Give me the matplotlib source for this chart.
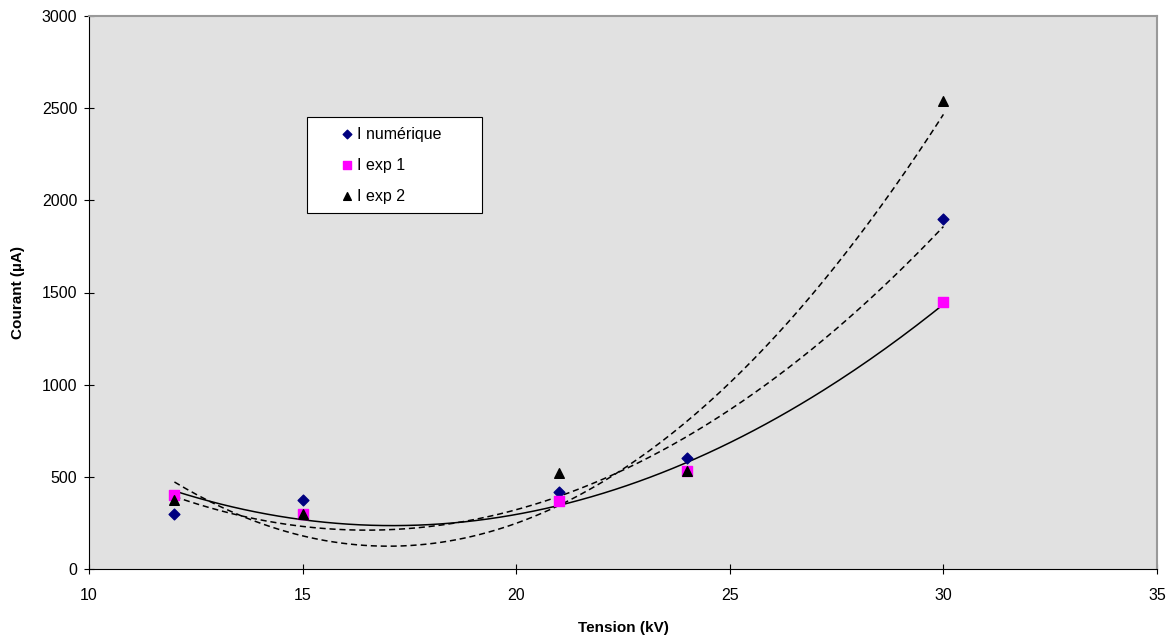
import numpy as np
import matplotlib
matplotlib.use('agg')
import matplotlib.pyplot as plt

plt.rcParams['font.family'] = ['Liberation Sans', 'DejaVu Sans']

# data
tension = [12, 15, 21, 24, 30]
i_numerique = [300, 375, 420, 600, 1900]
i_exp1 = [400, 300, 370, 530, 1450]
i_exp2 = [375, 300, 520, 530, 2540]

W, H = 1171, 640
fig = plt.figure(figsize=(W / 100, H / 100), dpi=100)
ax = fig.add_axes([89 / W, 1 - 569 / H, (1157 - 89) / W, (569 - 16) / H])
ax.set_facecolor('#e1e1e1')

# polynomial (order 2) trendlines, as in the spreadsheet
xs = np.linspace(12, 30, 200)
for ys, ls in [(i_numerique, (0, (4, 2.5))), (i_exp1, '-'), (i_exp2, (0, (4, 2.5)))]:
    p = np.polyfit(tension, ys, 2)
    ax.plot(xs, np.polyval(p, xs), color='black', lw=1.1, ls=ls, zorder=2)

ax.scatter(tension, i_numerique, marker='D', s=30, color='#000080', label='I numérique', zorder=3)
ax.scatter(tension, i_exp1, marker='s', s=42, color='#ff00ff', label='I exp 1', zorder=3)
ax.scatter(tension, i_exp2, marker='^', s=48, color='black', label='I exp 2', zorder=4)

ax.set_xlim(10, 35)
ax.set_ylim(0, 3000)
ax.set_xticks(range(10, 36, 5))
ax.set_yticks(range(0, 3001, 500))
ax.tick_params(direction='inout', length=7, width=0.8, labelsize=11.5)
ax.tick_params(axis='x', pad=10)
ax.tick_params(axis='y', pad=5)
ax.spines['top'].set_color('#999999')
ax.spines['right'].set_color('#999999')
ax.spines['top'].set_linewidth(1.5)
ax.spines['right'].set_linewidth(1.5)

ax.set_xlabel('Tension (kV)', fontsize=11, fontweight='bold', labelpad=13)
ax.set_ylabel('Courant (µA)', fontsize=11, fontweight='bold', labelpad=12)

# legend box placed like the original (pixel frame 307..482 x 117..211)
bx0 = (307 - 89) / 1068
bw = (482 - 307) / 1068
btop = 1 - (117 - 16) / 553
leg = ax.legend(loc='upper left', bbox_to_anchor=(bx0, btop - 0.2, bw, 0.2), mode='expand',
                frameon=True, fancybox=False, edgecolor='black', framealpha=1,
                fontsize=11.5, borderpad=0.6, labelspacing=1.0, borderaxespad=0,
                handlelength=3.85, handletextpad=-1.3, scatterpoints=1, markerscale=0.8)
leg.get_frame().set_linewidth(0.8)

fig.savefig('out.png')
